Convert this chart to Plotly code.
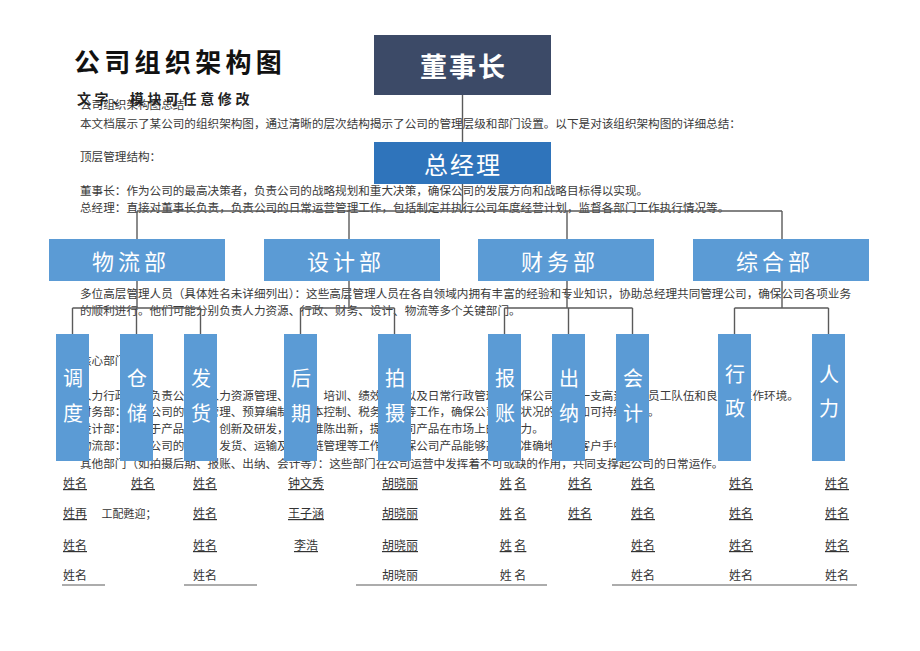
import plotly.graph_objects as go

# ---------------- content ----------------
title = "公司组织架构图"
subtitle = "文字、模块可任意修改"
chairman = "董事长"
general_manager = "总经理"
departments = ["物流部", "设计部", "财务部", "综合部"]
teams = ["调度", "仓储", "发货", "后期", "拍摄", "报账", "出纳", "会计", "行政", "人力"]
team_dept = [0, 0, 0, 1, 1, 2, 2, 2, 3, 3]
staff = [
    ["姓名", "姓再", "姓名", "姓名"],
    ["姓名", "", "", ""],
    ["姓名", "姓名", "姓名", "姓名"],
    ["钟文秀", "王子涵", "李浩", ""],
    ["胡晓丽", "胡晓丽", "胡晓丽", "胡晓丽"],
    ["姓 名", "姓 名", "姓 名", "姓 名"],
    ["姓名", "姓名", "", ""],
    ["姓名", "姓名", "姓名", "姓名"],
    ["姓名", "姓名", "姓名", "姓名"],
    ["姓名", "姓名", "姓名", "姓名"],
]
staff_note = "工配甦迎；"
body_lines = [
    "公司组织架构图总结",
    "本文档展示了某公司的组织架构图，通过清晰的层次结构揭示了公司的管理层级和部门设置。以下是对该组织架构图的详细总结：",
    "顶层管理结构：",
    "董事长：作为公司的最高决策者，负责公司的战略规划和重大决策，确保公司的发展方向和战略目标得以实现。",
    "总经理：直接对董事长负责，负责公司的日常运营管理工作，包括制定并执行公司年度经营计划，监督各部门工作执行情况等。",
    "多位高层管理人员（具体姓名未详细列出）：这些高层管理人员在各自领域内拥有丰富的经验和专业知识，协助总经理共同管理公司，确保公司各项业务",
    "的顺利进行。他们可能分别负责人力资源、行政、财务、设计、物流等多个关键部门。",
    "核心部门：",
    "人力行政部：负责公司的人力资源管理、招聘、培训、绩效考核以及日常行政管理，确保公司拥有一支高素质的员工队伍和良好的工作环境。",
    "财务部：负责公司的财务管理、预算编制、成本控制、税务筹划等工作，确保公司财务状况的健康和可持续发展。",
    "设计部：专注于产品设计、创新及研发，不断推陈出新，提升公司产品在市场上的竞争力。",
    "物流部：负责公司的仓储、发货、运输及供应链管理等工作，确保公司产品能够高效、准确地送达客户手中。",
    "其他部门（如拍摄后期、报账、出纳、会计等）：这些部门在公司运营中发挥着不可或缺的作用，共同支撑起公司的日常运作。",
]

# ---------------- layout (positions / sizes / styles) ----------------
PAGE_W, PAGE_H = 920, 651
OFF = 8  # default page margin around the figure
body_x = 80
body_y = [106, 125, 158, 192, 209, 295, 312, 362, 397, 413, 430, 447, 465]
chair_box = (374, 551, 35, 95)
gm_box = (374, 551, 142, 184)
dept_x0 = [49, 264, 478, 693]
dept_x1 = [225, 440, 654, 869]
dept_y0, dept_y1 = 239, 281
dept_link_x = [137, 349, 567, 782]
dept_label_shift = -6
trunk_y = 211
branch_y = 308
team_x0 = [56, 120, 184, 284, 378, 488, 552, 616, 718, 812]
team_w = 33
team_y0, team_y1 = 334, 461
team_char_y = [[377, 412], [373, 407]]
staff_x = [75, 143, 205, 306, 400, 513, 580, 643, 741, 837]
staff_y = [485, 515, 547, 577]
note_x, note_y = 129, 515
rule_segments = [(62, 105), (184, 257), (356, 547), (612, 857)]
rule_y = 585

C_CHAIR = "#3c4a67"
C_GM = "#2f74bb"
C_DEPT = "#5b9bd5"
C_LINE = "#5a5a5a"
C_TEXT = "#3a3a3a"
SANS = "Noto Sans CJK SC, Noto Sans, sans-serif"

fig = go.Figure()

# body text (drawn under boxes)
fig.add_trace(go.Scatter(
    x=[body_x] * len(body_lines), y=body_y, text=body_lines,
    mode="text", textposition="middle right",
    textfont=dict(family=SANS, size=11.6, color=C_TEXT),
    hoverinfo="skip", showlegend=False,
))

# staff names
sx, sy, st = [], [], []
for i, col in enumerate(staff):
    for r, name in enumerate(col):
        if not name:
            continue
        if r < 3:
            txt = " ".join(f"<u>{p}</u>" for p in name.split(" "))
        else:
            txt = name
        sx.append(staff_x[i]); sy.append(staff_y[r]); st.append(txt)
fig.add_trace(go.Scatter(
    x=sx, y=sy, text=st, mode="text", textposition="middle center",
    textfont=dict(family=SANS, size=12, color="#333333"),
    hoverinfo="skip", showlegend=False,
))
fig.add_trace(go.Scatter(
    x=[note_x], y=[note_y], text=[staff_note], mode="text",
    textposition="middle center",
    textfont=dict(family=SANS, size=11, color="#333333"),
    hoverinfo="skip", showlegend=False,
))

shapes = []
def line(x0, y0, x1, y1, w=1.4):
    shapes.append(dict(type="line", x0=x0, y0=y0, x1=x1, y1=y1, layer="above",
                       line=dict(color=C_LINE, width=w)))
def rect(x0, x1, y0, y1, color):
    shapes.append(dict(type="rect", x0=x0, x1=x1, y0=y0, y1=y1, layer="above",
                       fillcolor=color, line=dict(width=0)))

cx = (chair_box[0] + chair_box[1]) / 2
# connectors
line(cx, chair_box[3], cx, gm_box[2])
line(cx, gm_box[3], cx, trunk_y)
line(dept_link_x[0], trunk_y, dept_link_x[-1], trunk_y)
for d, lx in enumerate(dept_link_x):
    line(lx, trunk_y, lx, dept_y0)
    line(lx, dept_y1, lx, branch_y)
    kids = [i for i, p in enumerate(team_dept) if p == d]
    centers = [team_x0[i] + team_w / 2 for i in kids]
    line(min(centers), branch_y, max(centers), branch_y)
    for c in centers:
        line(c, branch_y, c, team_y0)
# underline rules
for a, b in rule_segments:
    line(a, rule_y, b, rule_y, w=1.2)

# boxes
rect(*chair_box, C_CHAIR)
rect(*gm_box, C_GM)
for d in range(len(departments)):
    rect(dept_x0[d], dept_x1[d], dept_y0, dept_y1, C_DEPT)
for i in range(len(teams)):
    rect(team_x0[i], team_x0[i] + team_w, team_y0, team_y1, C_DEPT)

annotations = []
def label(x, y, text, size, color="white", bold=False, spacing=0, anchor="center"):
    t = f"<b>{text}</b>" if bold else text
    if spacing:
        t = f'<span style="letter-spacing:{spacing}px">{t}</span>'
    annotations.append(dict(x=x, y=y, text=t, showarrow=False, xanchor=anchor,
                            yanchor="middle", font=dict(family=SANS, size=size, color=color)))

label(72, 60, title, 26, color="#111111", bold=True, spacing=4.3, anchor="left")
label(75, 98, subtitle, 14, color="#222222", bold=True, spacing=3.6, anchor="left")
label(cx + 1, (chair_box[2] + chair_box[3]) / 2, chairman, 27, bold=True, spacing=2)
label(cx, (gm_box[2] + gm_box[3]) / 2, general_manager, 24, spacing=2)
for d, name in enumerate(departments):
    label((dept_x0[d] + dept_x1[d]) / 2 + dept_label_shift, (dept_y0 + dept_y1) / 2,
          name, 22, spacing=4)
for i, name in enumerate(teams):
    ys = team_char_y[1] if team_dept[i] == 3 else team_char_y[0]
    for k, ch in enumerate(name):
        label(team_x0[i] + team_w / 2, ys[k], ch, 20)

fig.update_layout(
    width=PAGE_W - OFF, height=PAGE_H - OFF, margin=dict(l=0, r=0, t=0, b=0),
    paper_bgcolor="white", plot_bgcolor="white",
    xaxis=dict(range=[OFF, PAGE_W], visible=False, fixedrange=True),
    yaxis=dict(range=[PAGE_H, OFF], visible=False, fixedrange=True),
    shapes=shapes, annotations=annotations, showlegend=False,
)
fig.write_html("out.html")
